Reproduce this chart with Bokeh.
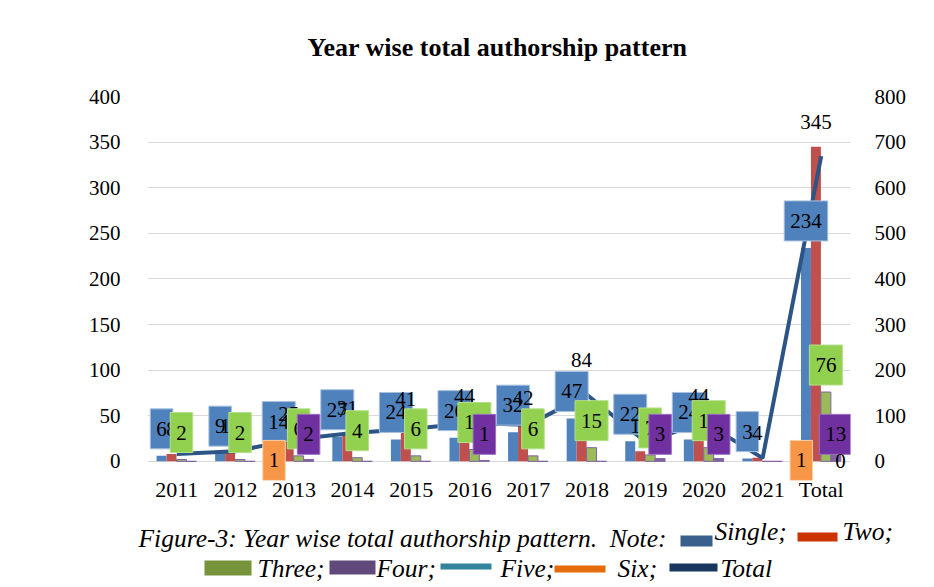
from bokeh.plotting import figure
from bokeh.models import ColumnDataSource, FactorRange, Range1d, LinearAxis, FixedTicker, Plot
from bokeh.transform import dodge
from bokeh.layouts import column
from bokeh.core.properties import value
from bokeh.embed import file_html
from bokeh.resources import INLINE

# ---------------- data ----------------
years = ["2011", "2012", "2013", "2014", "2015", "2016", "2017", "2018", "2019", "2020", "2021", "Total"]
single = [6, 9, 14, 27, 24, 26, 32, 47, 22, 24, 3, 234]
two = [8, 11, 25, 31, 41, 44, 42, 84, 11, 44, 4, 345]
three = [2, 2, 6, 4, 6, 13, 6, 15, 7, 15, 0, 76]
four = [0, 0, 2, 0, 0, 1, 0, 0, 3, 3, 0, 13]
five = [0, 0, 0, 0, 0, 0, 0, 0, 0, 0, 0, 0]
six = [0, 0, 1, 0, 0, 0, 0, 0, 0, 0, 0, 1]
total = [16, 22, 48, 62, 71, 84, 80, 146, 43, 86, 7, 669]
five_labels = ["", "", "", "", "", "", "", "", "", "", "", "0"]
left_ticks = [0, 50, 100, 150, 200, 250, 300, 350, 400]
right_ticks = [0, 100, 200, 300, 400, 500, 600, 700, 800]

title_text = "Year wise total authorship pattern"
caption_main = "Figure-3: Year wise total authorship pattern.\u00a0 Note:"
legend_names = ["Single;", "Two;", "Three;", "Four;", "Five;", "Six;", "Total"]
legend_colors = ["#3B5F8C", "#CC3300", "#77933C", "#604A7B", "#31849B", "#E46C0A", "#17375E"]

FONT = "Liberation Serif"
W = 930
CAN_UNALIGN = "frame_align" in Plot.properties()

def strip(height):
    f = figure(width=W, height=height, x_range=Range1d(0, W), y_range=Range1d(height, 0),
               output_backend="svg", toolbar_location=None, x_axis_type=None, y_axis_type=None,
               min_border=0, outline_line_color=None)
    f.grid.visible = False
    if CAN_UNALIGN:
        f.frame_align = False
    return f

# ---------------- title strip (canvas y 0..TH) ----------------
TH = 68
tfig = strip(TH)
tfig.text(x=[497], y=[47], text=[title_text], text_font=value(FONT), text_font_size="26px",
          text_font_style="bold", text_align="center", text_baseline="middle", text_color="black")

# ---------------- main chart (canvas y TH..513) ----------------
FL, FR, FT, FB = 147, 850, 96, 480
PH = 513 - TH
YMIN, YMAX = -21, 400
src = ColumnDataSource(dict(year=years, single=single, two=two, three=three, four=four,
                            six=six, total=total))

p = figure(x_range=FactorRange(*years), y_range=Range1d(YMIN, YMAX), width=W, height=PH,
           output_backend="svg", toolbar_location=None,
           min_border_left=FL, min_border_right=W - FR, min_border_top=FT - TH,
           min_border_bottom=TH + PH - FB)
if CAN_UNALIGN:
    p.frame_align = False
p.outline_line_color = None
p.extra_y_ranges = {"right": Range1d(2 * YMIN, 2 * YMAX)}
p.add_layout(LinearAxis(y_range_name="right", ticker=FixedTicker(ticks=right_ticks)), "right")

p.yaxis[0].ticker = FixedTicker(ticks=left_ticks)
for ax in p.yaxis:
    ax.axis_line_color = None
    ax.major_tick_line_color = None
    ax.minor_tick_line_color = None
    ax.major_label_text_font = FONT
    ax.major_label_text_font_size = "21px"
    ax.major_label_text_color = "black"
p.yaxis[0].major_label_standoff = 21
p.yaxis[1].major_label_standoff = 18

p.xaxis.axis_line_color = None
p.xaxis.major_tick_line_color = None
p.xaxis.minor_tick_line_color = None
p.xaxis.major_tick_out = 0
p.xaxis.major_tick_in = 0
p.xaxis.major_label_text_font = FONT
p.xaxis.major_label_text_font_size = "22px"
p.xaxis.major_label_text_color = "black"
p.xaxis.major_label_standoff = -4

p.xgrid.grid_line_color = None
p.ygrid.grid_line_color = "#D9D9D9"
p.ygrid.ticker = FixedTicker(ticks=left_ticks)

BW = 0.17
offs = [-0.26, -0.09, 0.08, 0.25]
p.vbar(x=dodge("year", offs[0], range=p.x_range), top="single", bottom=0, width=BW, source=src,
       fill_color="#4F81BD", line_color=None)
p.vbar(x=dodge("year", offs[1], range=p.x_range), top="two", bottom=0, width=BW, source=src,
       fill_color="#C0504D", line_color=None)
p.vbar(x=dodge("year", offs[2], range=p.x_range), top="three", bottom=0, width=BW, source=src,
       fill_color="#9BBB59", line_color="#8064A2", line_width=1)
p.vbar(x=dodge("year", offs[3], range=p.x_range), top="four", bottom=0, width=BW, source=src,
       fill_color="#8064A2", line_color="#8064A2", line_width=1)

p.line(x="year", y="total", source=src, y_range_name="right", line_color="#2C5586", line_width=4)

# ---------------- data labels ----------------
def lab_src(vals):
    xs, ys, ts = [], [], []
    for c, v in zip(years, vals):
        if v > 0:
            xs.append(c)
            ys.append(v)
            ts.append(str(v))
    return ColumnDataSource(dict(x=xs, y=ys, t=ts))

common = dict(text="t", text_font=value(FONT), text_font_size="21px", text_align="center",
              text_baseline="middle", text_color="black")
PAD = (6, 6, 13, 13)

p.text(x=dodge("x", offs[0], range=p.x_range), y="y", source=lab_src(single), y_offset=-27,
       background_fill_color="#4F81BD", border_line_color="#A7C0DE", border_line_width=1,
       padding=PAD, **common)
p.text(x=dodge("x", offs[1], range=p.x_range), y="y", source=lab_src(two), y_offset=-25, **common)
p.text(x=dodge("x", offs[2], range=p.x_range), y="y", source=lab_src(three), y_offset=-27,
       background_fill_color="#92D050", border_line_color="#B5E08A", border_line_width=1,
       padding=PAD, **common)
four_src = lab_src(four)
four_src.data["base"] = [0] * len(four_src.data["x"])
p.text(x=dodge("x", offs[3], range=p.x_range), y="base", source=four_src, y_offset=-27,
       background_fill_color="#7030A0", border_line_color="#9B6FC0", border_line_width=1,
       padding=PAD, **common)
p.text(x=dodge("x", -0.34, range=p.x_range), y="y", source=lab_src(six), y_offset=0,
       background_fill_color="#F79646", border_line_color="#FBD0A8", border_line_width=1,
       padding=PAD, **common)
five_src = ColumnDataSource(dict(x=[c for c, t in zip(years, five_labels) if t],
                                 y=[v for v, t in zip(five, five_labels) if t],
                                 t=[t for t in five_labels if t]))
p.text(x=dodge("x", 0.33, range=p.x_range), y="y", source=five_src, y_range_name="right",
       y_offset=0, **common)

# ---------------- caption with legend swatches (canvas y 513..585) ----------------
CY0 = TH + PH
CH = 72
cap = strip(CH)
it = dict(text_font=value(FONT), text_font_size="25.5px", text_font_style="italic",
          text_align="left", text_baseline="middle", text_color="black")
cap.text(x=[138], y=[538 - CY0], text=[caption_main], **it)
sw = [(680, 712, 535, 546), (797, 837, 532, 541),
      (204, 251, 560, 575), (329, 375, 560, 574), (440, 491, 563, 569),
      (554, 605, 565, 572), (669, 717, 563, 571)]
tx = [(714, 531), (842, 531), (257, 568), (376, 568), (500, 568), (617, 568), (720, 568)]
for (x0, x1, y0, y1), col, (px, py), name in zip(sw, legend_colors, tx, legend_names):
    cap.quad(left=[x0], right=[x1], top=[y0 - CY0], bottom=[y1 - CY0], fill_color=col,
             line_color=None)
    cap.text(x=[px], y=[py - CY0], text=[name], **it)

layout = column(tfig, p, cap, spacing=0)
open("out.html", "w").write(file_html(layout, INLINE))
